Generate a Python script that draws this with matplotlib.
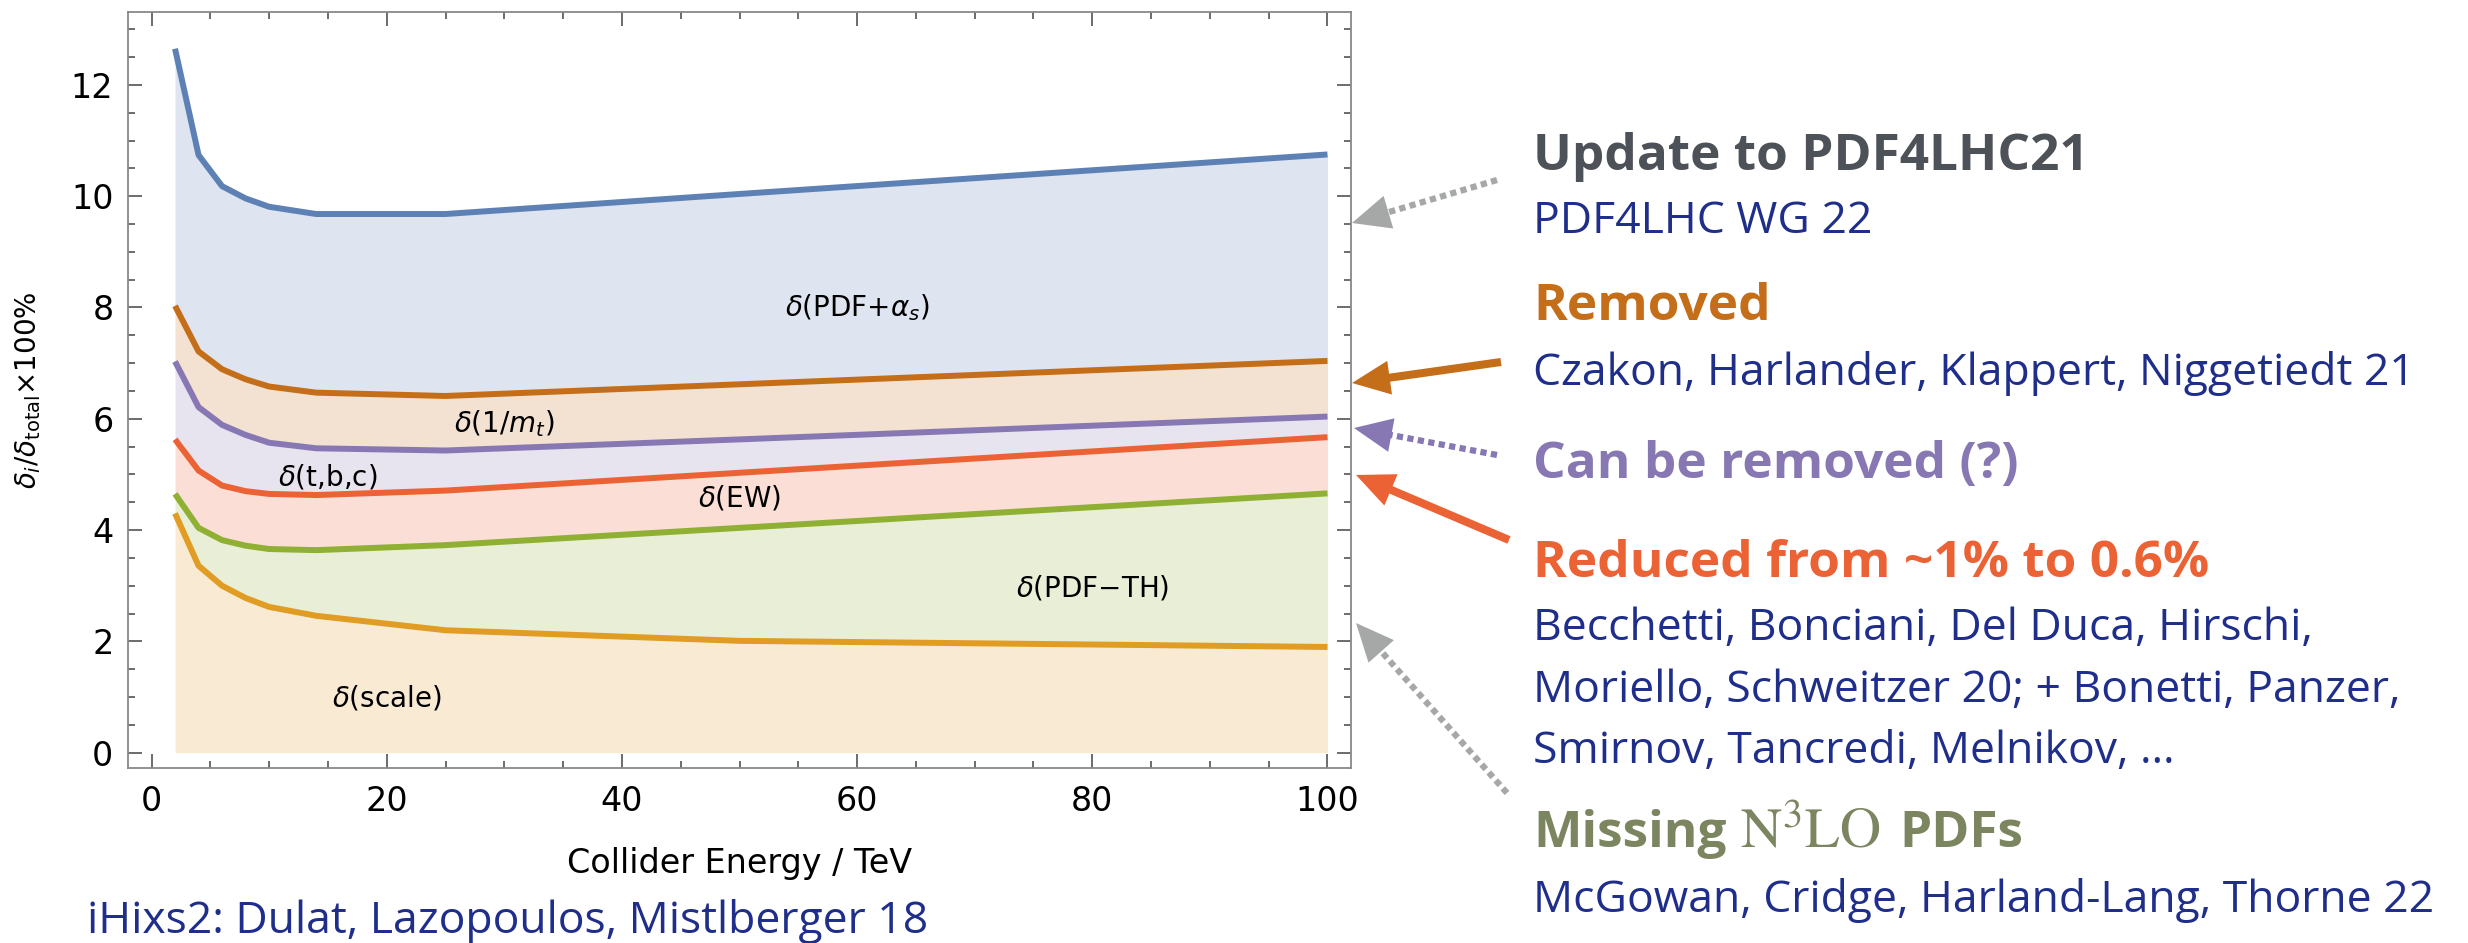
import matplotlib
matplotlib.use("Agg")
import matplotlib.pyplot as plt
from matplotlib.lines import Line2D
from matplotlib.patches import Polygon
from matplotlib.ticker import MultipleLocator
import numpy as np

# ---------------- data (cumulative band tops) ----------------
energy = [2, 4, 6, 8, 10, 14, 25, 50, 100]
scale_top = [4.30, 3.36, 3.00, 2.78, 2.62, 2.46, 2.20, 2.01, 1.90]
pdfth_top = [4.65, 4.04, 3.82, 3.72, 3.66, 3.64, 3.73, 4.04, 4.66]
ew_top = [5.63, 5.07, 4.80, 4.70, 4.65, 4.63, 4.71, 5.03, 5.67]
tbc_top = [7.03, 6.21, 5.89, 5.71, 5.57, 5.47, 5.43, 5.63, 6.04]
mt_top = [8.03, 7.21, 6.89, 6.71, 6.58, 6.47, 6.41, 6.62, 7.04]
pdf_top = [12.65, 10.74, 10.18, 9.96, 9.81, 9.68, 9.68, 10.04, 10.75]

band_labels = [r"$\delta$(scale)", r"$\delta$(PDF$-$TH)", r"$\delta$(EW)",
               r"$\delta$(t,b,c)", r"$\delta$(1/$m_t$)", r"$\delta$(PDF+$\alpha_s$)"]
band_label_x = [20, 80, 50, 15, 30, 60]
band_label_y = [0.98, 2.96, 4.58, 4.96, 5.92, 8.0]

xticks = [0, 20, 40, 60, 80, 100]
yticks = [0, 2, 4, 6, 8, 10, 12]

colors = ["#E19C24", "#8FB032", "#EB6235", "#8778B3", "#C56E1A", "#5E81B5"]
tops = [scale_top, pdfth_top, ew_top, tbc_top, mt_top, pdf_top]

W, H = 2468, 943
fig = plt.figure(figsize=(W / 100, H / 100), dpi=100)
ax = fig.add_axes([128 / W, 1 - 768 / H, (1351 - 128) / W, (768 - 12) / H])

lower = np.zeros(len(energy))
for top, c in zip(tops, colors):
    ax.fill_between(energy, lower, top, color=c, alpha=0.2, lw=0, zorder=1)
    lower = np.array(top)
for top, c in zip(tops, colors):
    ax.plot(energy, top, color=c, lw=4.3, zorder=3, solid_capstyle="butt")

for t, x, y in zip(band_labels, band_label_x, band_label_y):
    ax.text(x, y, t, fontsize=20, ha="center", va="center", color="black", zorder=4)

ax.set_xlim(-2, 102)
ax.set_ylim(-0.275, 13.31)
ax.set_xticks(xticks)
ax.set_yticks(yticks)
ax.xaxis.set_minor_locator(MultipleLocator(5))
ax.yaxis.set_minor_locator(MultipleLocator(0.5))
ax.tick_params(which="both", direction="in", top=True, right=True, color="#444444", width=1.1)
ax.tick_params(which="major", length=10, labelsize=24)
ax.tick_params(which="minor", length=5)
ax.tick_params(axis="y", which="both", pad=10.5)
ax.tick_params(axis="x", which="both", pad=12.5)
for s in ax.spines.values():
    s.set_color("#888888")
    s.set_linewidth(1.3)

ax.set_xlabel("Collider Energy / TeV", fontsize=24)
ax.xaxis.set_label_coords(0.5, -0.104)
ax.xaxis.label.set_va("top")
ax.set_ylabel(r"$\delta_i/\delta_{\mathrm{total}}$×100%", fontsize=20)
ax.yaxis.set_label_coords(-0.0695, 0.5)

# ---------------- annotations on the right ----------------
navy = "#1f2e8a"
fam = ["Open Sans", "DejaVu Sans"]


def ftext(x, y, s, size, color, weight="normal", **kw):
    return fig.text(x / W, 1 - y / H, s, fontsize=size, color=color, fontweight=weight,
                    family=fam, ha="left", va="baseline", **kw)


X0 = 1533
BODY = 32
HEAD = 37
olive = "#7b8560"
ftext(X0, 170, "Update to PDF4LHC21", HEAD, "#4d5158", "bold")
ftext(X0, 233, "PDF4LHC WG 22", BODY, navy)
ftext(X0, 320, "Removed", HEAD, "#C56E1A", "bold")
ftext(X0, 385, "Czakon, Harlander, Klappert, Niggetiedt 21", BODY, navy)
ftext(X0, 478, "Can be removed (?)", HEAD, "#8778B3", "bold")
ftext(X0, 577, "Reduced from ~1% to 0.6%", HEAD, "#EB6235", "bold")
ftext(X0, 640, "Becchetti, Bonciani, Del Duca, Hirschi,", BODY, navy)
ftext(X0, 702, "Moriello, Schweitzer 20; + Bonetti, Panzer,", BODY, navy)
ftext(X0, 763, "Smirnov, Tancredi, Melnikov, \u2026", BODY, navy)

# "Missing N^3LO PDFs" assembled from pieces (serif N^3LO, larger)
renderer = fig.canvas.get_renderer()
t1 = ftext(X0, 847, "Missing", HEAD, olive, "bold")
x_px = t1.get_window_extent(renderer).x1 + 14
t2 = fig.text(x_px / W, 1 - 847 / H, r"$\mathrm{N}^{3}\mathrm{LO}$", fontsize=41,
              color=olive, math_fontfamily="stix", ha="left", va="baseline")
x_px = t2.get_window_extent(renderer).x1 + 18
fig.text(x_px / W, 1 - 847 / H, "PDFs", fontsize=HEAD, color=olive, fontweight="bold",
         family=fam, ha="left", va="baseline")

ftext(X0, 912, "McGowan, Cridge, Harland-Lang, Thorne 22", BODY, navy)
ftext(87, 933, "iHixs2: Dulat, Lazopoulos, Mistlberger 18", BODY, navy)


def arrow(tail, tip, color, lw, dotted, head_len=38, head_w=34):
    t = np.array(tail, float)
    p = np.array(tip, float)
    d = (p - t) / np.linalg.norm(p - t)
    base = p - d * head_len
    perp = np.array([-d[1], d[0]])
    ls = (0, (1.0, 0.7)) if dotted else "-"
    fx = lambda q: (q[0] / W, 1 - q[1] / H)
    (x0, y0), (x1, y1) = fx(t), fx(base + d * 2)
    fig.add_artist(Line2D([x0, x1], [y0, y1], transform=fig.transFigure, color=color,
                          lw=lw, linestyle=ls, solid_capstyle="butt", dash_capstyle="butt"))
    tri = [fx(p), fx(base + perp * head_w / 2), fx(base - perp * head_w / 2)]
    fig.add_artist(Polygon(tri, closed=True, transform=fig.transFigure, color=color, lw=0))


gray = "#a5a8a6"
arrow((1497, 180), (1352, 223), gray, 4.5, True)
arrow((1501, 362), (1352, 383), "#C56E1A", 5.8, False)
arrow((1497, 455), (1354, 428), "#8778B3", 4.5, True)
arrow((1509, 540), (1356, 475), "#EB6235", 5.8, False)
arrow((1507, 793), (1356, 623), gray, 4.5, True)

fig.savefig("out.png", dpi=100)
